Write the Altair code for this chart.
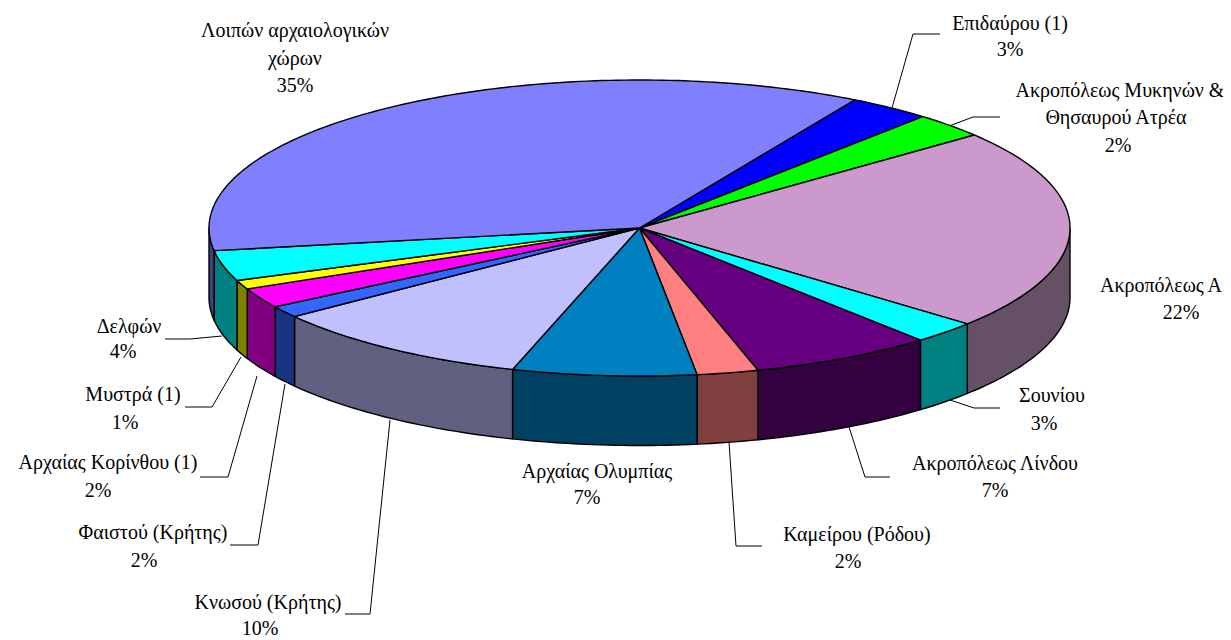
import math
import altair as alt
import pandas as pd

# Slice shares (percent of the full circle), clockwise from the 2 o'clock start
names = ["Επιδαύρου (1)", "Ακροπόλεως Μυκηνών & Θησαυρού Ατρέα", "Ακροπόλεως Α", "Σουνίου",
         "Ακροπόλεως Λίνδου", "Καμείρου (Ρόδου)", "Αρχαίας Ολυμπίας", "Κνωσού (Κρήτης)",
         "Φαιστού (Κρήτης)", "Αρχαίας Κορίνθου (1)", "Μυστρά (1)", "Δελφών",
         "Λοιπών αρχαιολογικών χώρων"]
shares = [3.1, 2.75, 22.04, 2.46, 6.88, 2.3, 6.9, 10.03, 1.27, 2.18, 0.99, 3.32, 35.78]
top_colors = ["#0000FF", "#00FF00", "#CC99CC", "#00FFFF", "#660080", "#FF8080", "#0080C0",
              "#C0C0FF", "#3366FF", "#FF00FF", "#FFFF00", "#00FFFF", "#8080FF"]
side_colors = ["#000080", "#008000", "#665066", "#008080", "#330040", "#804040", "#004060",
               "#606080", "#1A3380", "#800080", "#808000", "#008080", "#404080"]

# Label rows: text, centre x, centre y (picture pixels)
label_text = ["Λοιπών αρχαιολογικών", "χώρων", "35%", "Επιδαύρου (1)", "3%",
              "Ακροπόλεως Μυκηνών &", "Θησαυρού Ατρέα", "2%", "Ακροπόλεως Α", "22%",
              "Σουνίου", "3%", "Ακροπόλεως Λίνδου", "7%", "Καμείρου (Ρόδου)", "2%",
              "Αρχαίας Ολυμπίας", "7%", "Κνωσού (Κρήτης)", "10%", "Φαιστού (Κρήτης)", "2%",
              "Αρχαίας Κορίνθου (1)", "2%", "Μυστρά (1)", "1%", "Δελφών", "4%"]
label_x = [295, 295, 295, 1010, 1010, 1120, 1116, 1118, 1161, 1181, 1052, 1044, 995, 995,
           857, 848, 597, 587, 268, 260, 153, 144, 108, 98, 133, 125, 129, 123]
label_y = [31, 59, 86, 24, 50, 91, 118, 146, 286, 313, 396, 424, 464, 491,
           535, 562, 472, 498, 603, 629, 533, 561, 463, 491, 395, 423, 327, 352]

# Leader lines
leaders = [[(892, 108), (913, 34), (940, 34)], [(949, 126), (973, 117), (1000, 117)],
           [(950, 400), (974, 408), (1000, 408)], [(849, 427), (865, 477), (890, 477)],
           [(729, 442), (736, 546), (762, 546)], [(390, 420), (370, 614), (345, 614)],
           [(285, 384), (258, 545), (230, 545)], [(257, 376), (228, 477), (200, 477)],
           [(241, 357), (212, 407), (185, 407)], [(222, 336), (190, 339), (165, 339)]]

CX, CY, RX, RY, DEPTH, START = 639.5, 228, 430.5, 148, 69.5, -60.0


def pt(deg, dy=0):
    a = math.radians(deg)
    return CX + RX * math.cos(a), CY + RY * math.sin(a) + dy


def arc(a0, a1):
    n = max(2, int(abs(a1 - a0)) + 2)
    return [a0 + (a1 - a0) * i / (n - 1) for i in range(n)]


top_rows, side_rows = [], []
a = START
for i, (s, tc, sc) in enumerate(zip(shares, top_colors, side_colors)):
    a0, a1 = a, a + s * 3.6
    a = a1
    poly = [(CX, CY)] + [pt(t) for t in arc(a0, a1)] + [(CX, CY)]
    for k, (x, y) in enumerate(poly):
        top_rows.append({"slice": i, "k": k, "x": x, "y": y, "c": tc})
    lo, hi = max(a0, 0), min(a1, 180)
    if lo < hi:
        ts = arc(lo, hi)
        poly = [pt(t) for t in ts] + [pt(t, DEPTH) for t in reversed(ts)]
        poly.append(poly[0])
        for k, (x, y) in enumerate(poly):
            side_rows.append({"slice": i, "k": k, "x": x, "y": y, "c": sc})

leader_rows = [{"line": i, "k": k, "x": x, "y": y}
               for i, line in enumerate(leaders) for k, (x, y) in enumerate(line)]
labels = pd.DataFrame({"t": label_text, "x": label_x, "y": label_y})

xs = alt.Scale(domain=[8, 1223], nice=False, zero=False)
ys = alt.Scale(domain=[640, 8], nice=False, zero=False)
X = alt.X("x:Q", scale=xs, axis=None)
Y = alt.Y("y:Q", scale=ys, axis=None)


def faces(rows):
    return alt.Chart(pd.DataFrame(rows)).mark_line(
        stroke="black", strokeWidth=1.4, strokeJoin="round"
    ).encode(X, Y, alt.Fill("c:N", scale=None, legend=None),
             detail="slice:N", order="k:Q")


lines = alt.Chart(pd.DataFrame(leader_rows)).mark_line(
    stroke="black", strokeWidth=1
).encode(X, Y, detail="line:N", order="k:Q")

text = alt.Chart(labels).mark_text(
    font="Liberation Serif", fontSize=20, color="black", align="center", baseline="middle"
).encode(X, Y, text="t:N")

chart = alt.layer(lines, faces(side_rows), faces(top_rows), text).properties(
    width=1215, height=632, padding=0, autosize=alt.AutoSizeParams(type="none")
).configure_view(stroke="transparent", strokeWidth=0)

chart.save("out.html", embed_options={"renderer": "svg", "actions": False})
